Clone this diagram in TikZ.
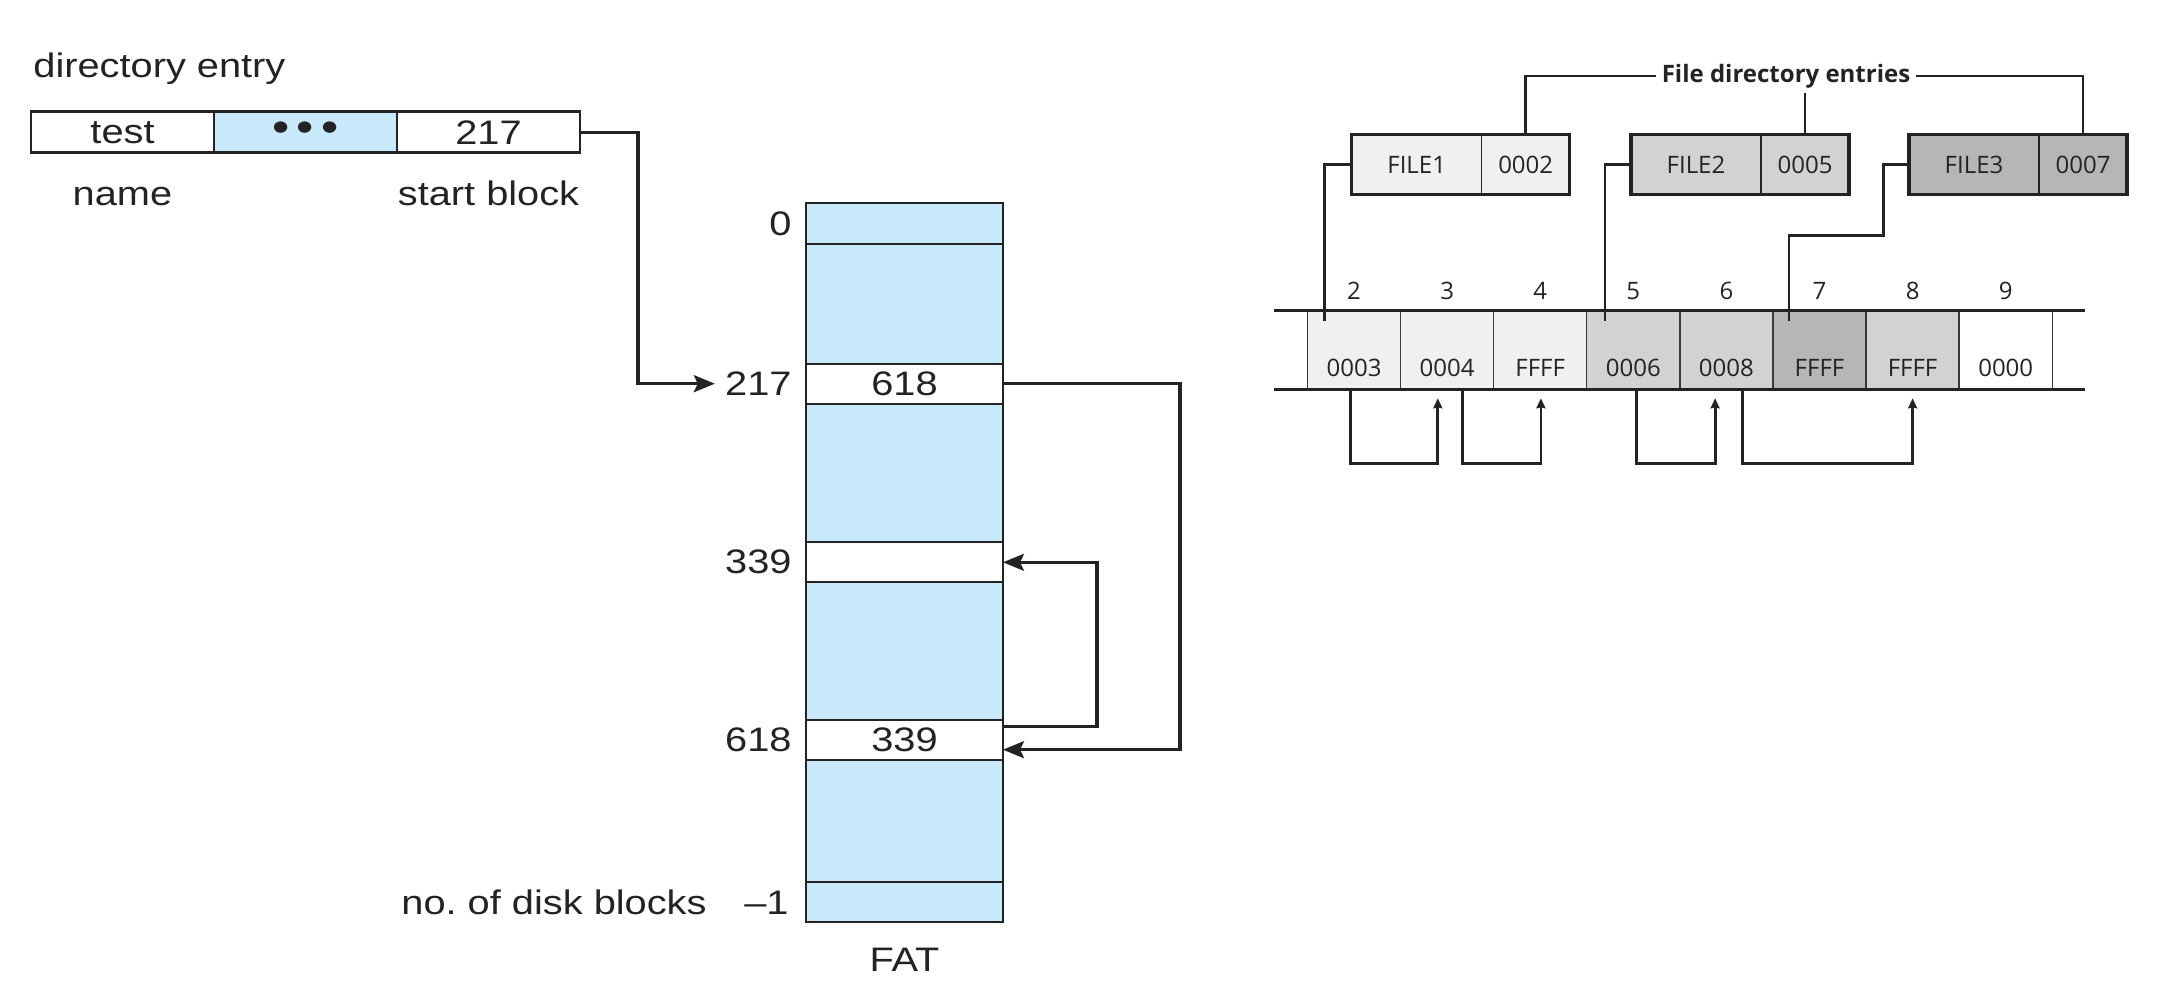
\documentclass[tikz,border=0pt]{standalone}
\usepackage{fontspec}
\setmainfont{Liberation Sans}
\newfontfamily\leftfont[FakeStretch=1.17]{Liberation Sans}
\newfontfamily\rightfont{Open Sans}
\usetikzlibrary{positioning,arrows.meta}

\definecolor{fatblue}{RGB}{199,233,249}
\definecolor{ink}{RGB}{35,35,35}
\definecolor{gray1}{RGB}{240,240,240}
\definecolor{gray2}{RGB}{210,210,210}
\definecolor{gray3}{RGB}{182,182,182}

\tikzstyle{leftlab} = [inner sep=0pt, text=ink, font=\leftfont\fontsize{17}{20}\selectfont]
\tikzstyle{entrycell} = [leftlab, draw=ink, line width=1.2pt, fill=white, minimum width=91.5pt, minimum height=20.5pt, outer sep=0pt]
\tikzstyle{fatrow} = [leftlab, draw=ink, line width=1pt, fill=white, minimum width=98.5pt, minimum height=20pt, outer sep=0pt]
\tikzstyle{fatlab} = [leftlab]
\tikzstyle{link} = [draw=ink, line width=1.6pt, -{Stealth[length=10.5pt,width=8.5pt,inset=2pt]}]
\tikzstyle{rightlab} = [inner sep=0pt, text=ink, font=\rightfont\fontsize{12}{14}\selectfont]
\tikzstyle{fname} = [rightlab, draw=ink, line width=0.6pt, minimum width=65pt, minimum height=30pt, outer sep=0pt]
\tikzstyle{fval} = [fname, minimum width=44pt]
\tikzstyle{boxframe} = [draw=ink, line width=1.7pt]
\tikzstyle{fcell} = [draw=ink!90, line width=0.7pt, minimum width=46.55pt, minimum height=39.3pt, outer sep=0pt, inner sep=0pt]
\tikzstyle{cval} = [rightlab, anchor=base]
\tikzstyle{rail} = [draw=ink, line width=1.7pt]
\tikzstyle{conn} = [draw=ink, line width=1.4pt]
\tikzstyle{back} = [-{Stealth[length=5pt,width=4.5pt,inset=0.5pt]}]

\begin{document}
\begin{tikzpicture}[x=0.5pt, y=-0.5pt]
       \useasboundingbox (0,0) rectangle (2170,1004);

       % directory entry
       \node[leftlab, anchor=base west] (direntry) at (33,78) {directory entry};
       \node[entrycell] (entname) at (122.5,132.2) {test};
       \node[entrycell, fill=fatblue, right=0pt of entname] (entdots) {\fontsize{21}{21}\selectfont •\kern3.5pt•\kern3.5pt•};
       \node[entrycell, right=0pt of entdots] (entstart) {217};
       \node[leftlab, anchor=base] (namelab) at (122.5,206) {name};
       \node[leftlab, anchor=base] (startlab) at (488.5,205.5) {start block};

       % FAT
       \node[fatrow, fill=fatblue, minimum height=359.5pt] (fat) at (904.5,562.5) {};
       \node[fatrow, fill=fatblue, minimum height=20.5pt] (r0) at (904.5,223.5) {};
       \node[fatrow] (r217) at (904.5,383.7) {618};
       \node[fatrow] (r339) at (904.5,562.3) {};
       \node[fatrow] (r618) at (904.5,739.7) {339};
       \node[fatrow, fill=fatblue] (rend) at (904.5,902.5) {};

       \node[fatlab, left=7pt of r0] (l0) {0};
       \node[fatlab, left=7pt of r217] (l217) {217};
       \node[fatlab, left=7pt of r339] (l339) {339};
       \node[fatlab, left=7pt of r618] (l618) {618};
       \node[fatlab, left=8.5pt of rend] (lend) {–1};
       \node[fatlab, left=18.5pt of lend] (ldisk) {no.\ of disk blocks};
       \node[fatlab, below=13pt of fat] (fatname) {FAT};

       \draw[link] (entstart.east) -- ++(58,0) |- ([xshift=-5pt]l217.west);
       \draw[link] (r217.east) -- ++(177,0) |- ([yshift=-5pt]r618.east);
       \draw[link] ([yshift=6.5pt]r618.east) -- ++(94,0) |- (r339.east);

       % file directory entries
       \node[rightlab, font=\rightfont\bfseries\fontsize{12}{14}\selectfont, inner sep=2.5pt] (fdir) at (1786,76) {File directory entries};

       \node[fname, fill=gray1] (f1name) at (1416.7,164.5) {FILE1};
       \node[fval, fill=gray1, right=0pt of f1name] (f1val) {0002};
       \draw[boxframe] (f1name.north west) rectangle (f1val.south east);
       \node[fname, fill=gray2] (f2name) at (1696,164.5) {FILE2};
       \node[fval, fill=gray2, right=0pt of f2name] (f2val) {0005};
       \draw[boxframe] (f2name.north west) rectangle (f2val.south east);
       \node[fname, fill=gray3] (f3name) at (1974,164.5) {FILE3};
       \node[fval, fill=gray3, right=0pt of f3name] (f3val) {0007};
       \draw[boxframe] (f3name.north west) rectangle (f3val.south east);

       % allocation table
       \node[fcell, fill=gray1] (c2) at (1354,350) {};
       \node[fcell, fill=gray1, right=0pt of c2] (c3) {};
       \node[fcell, fill=gray1, right=0pt of c3] (c4) {};
       \node[fcell, fill=gray2, right=0pt of c4] (c5) {};
       \node[fcell, fill=gray2, right=0pt of c5] (c6) {};
       \node[fcell, fill=gray3, right=0pt of c6] (c7) {};
       \node[fcell, fill=gray2, right=0pt of c7] (c8) {};
       \node[fcell, fill=white, right=0pt of c8] (c9) {};

       \node[cval] (v2) at ([yshift=6.3pt]c2.south) {0003};
       \node[cval] (v3) at ([yshift=6.3pt]c3.south) {0004};
       \node[cval] (v4) at ([yshift=6.3pt]c4.south) {FFFF};
       \node[cval] (v5) at ([yshift=6.3pt]c5.south) {0006};
       \node[cval] (v6) at ([yshift=6.3pt]c6.south) {0008};
       \node[cval] (v7) at ([yshift=6.3pt]c7.south) {FFFF};
       \node[cval] (v8) at ([yshift=6.3pt]c8.south) {FFFF};
       \node[cval] (v9) at ([yshift=6.3pt]c9.south) {0000};

       \node[cval] (n2) at ([yshift=5.4pt]c2.north) {2};
       \node[cval] (n3) at ([yshift=5.4pt]c3.north) {3};
       \node[cval] (n4) at ([yshift=5.4pt]c4.north) {4};
       \node[cval] (n5) at ([yshift=5.4pt]c5.north) {5};
       \node[cval] (n6) at ([yshift=5.4pt]c6.north) {6};
       \node[cval] (n7) at ([yshift=5.4pt]c7.north) {7};
       \node[cval] (n8) at ([yshift=5.4pt]c8.north) {8};
       \node[cval] (n9) at ([yshift=5.4pt]c9.north) {9};

       \draw[rail] ([xshift=-16.7pt]c2.north west) -- ([xshift=16.5pt]c9.north east);
       \draw[rail] ([xshift=-16.7pt]c2.south west) -- ([xshift=16.5pt]c9.south east);

       \draw[conn] (fdir.west) -| (f1val.north);
       \draw[conn] (f2val.north |- fdir.south) -- (f2val.north);
       \draw[conn] (fdir.east) -| (f3val.north);
       \draw[conn] (f1name.west) -- ++(-27,0) -- ++(0,156.4);
       \draw[conn] (f2name.west) -- ++(-26,0) -- ++(0,156.4);
       \draw[conn] (f3name.west) -- ++(-25.7,0) -- ++(0,70.7) -- ++(-94.3,0) -- ++(0,85.7);

       \draw[conn, back] ([xshift=-1.7pt]c2.south) -- ++(0,74) -| ([xshift=-4.65pt,yshift=-4.5pt]c3.south);
       \draw[conn, back] ([xshift=7.65pt]c3.south) -- ++(0,74) -| ([xshift=0.35pt,yshift=-4.5pt]c4.south);
       \draw[conn, back] ([xshift=1.7pt]c5.south) -- ++(0,74) -| ([xshift=-5.65pt,yshift=-4.5pt]c6.south);
       \draw[conn, back] ([xshift=8.2pt]c6.south) -- ++(0,74) -| ([yshift=-4.5pt]c8.south);
\end{tikzpicture}
\end{document}
